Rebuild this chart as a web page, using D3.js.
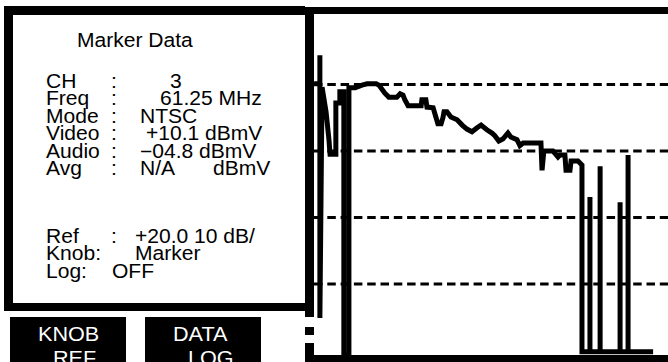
<!DOCTYPE html>
<html><head><meta charset="utf-8">
<script src="https://cdn.jsdelivr.net/npm/d3@7"></script>
<style>html,body{margin:0;padding:0;background:#fff;overflow:hidden}</style>
</head><body>
<svg id="c" width="668" height="362"></svg>
<script>
// ---- data ----
const traceFreqMHz = [58.25,58.41,58.41,58.41,58.47,58.58,58.66,58.69,58.85,58.85,58.96,58.96,59.07,59.07,59.21,59.21,59.38,59.57,59.71,59.96,60.04,60.20,60.31,60.53,60.62,60.70,60.75,60.84,61.20,61.22,61.33,61.36,61.53,61.66,61.75,61.80,61.83,61.91,62.02,62.19,62.33,62.46,62.60,62.74,62.85,63.01,63.15,63.23,63.34,63.45,63.59,63.67,63.84,63.92,64.01,64.50,64.53,64.58,64.83,64.91,64.97,65.02,65.16,65.19,65.30,65.33,65.52,65.63,65.63,65.85,65.85,65.85,66.13,66.13,66.13,66.68,66.68,66.68,66.90,66.90,66.90,67.59];
const traceLevelDbmv = [10.1,10.1,14.4,-25.1,9.6,5.9,1.7,-0.5,-0.5,7.2,7.2,8.9,8.9,-30.7,-30.7,9.5,9.5,9.9,10.1,10.1,9.9,8.7,8.1,8.1,8.6,8.4,7.7,6.8,6.8,7.7,7.7,6.6,6.5,4.1,4.1,5.0,5.9,5.9,5.1,4.7,3.9,3.3,2.9,3.5,3.9,3.2,2.7,2.3,1.5,1.8,2.7,2.1,1.7,0.8,1.2,1.2,-2.9,0.0,0.0,-0.5,-0.9,-0.6,-0.6,-2.9,-2.9,-1.5,-1.5,-2.1,-30.2,-30.2,-6.9,-30.2,-30.2,-2.3,-30.2,-30.2,-7.7,-30.2,-30.2,-0.6,-30.2,-30.2];
const gridLevelsDbmv = [10, 0, -10, -20];
const freqDomainMHz = [58, 68];
const levelDomainDbmv = [20, -30];
const panelTitle = "Marker Data";
const markerLabels = ["CH", "Freq", "Mode", "Video", "Audio", "Avg"];
const markerValues = ["3", "61.25 MHz", "NTSC", "+10.1 dBmV", "\u221204.8 dBmV", "N/A"];
const settingLabels = ["Ref", "Knob:", "Log:"];
const settingValues = ["+20.0 10 dB/", "Marker", "OFF"];
const softKeyTop = ["KNOB", "DATA"];
const softKeyBottom = ["REF", "LOG"];

// ---- drawing ----
const svg = d3.select("#c");
const FONT = "'Liberation Sans', Arial, Helvetica, sans-serif";

const x = d3.scaleLinear().domain(freqDomainMHz).range([305, 668]);
const y = d3.scaleLinear().domain(levelDomainDbmv).range([18, 350.5]);

// left info panel
svg.append("rect").attr("x", 4).attr("y", 6).attr("width", 301).attr("height", 305).attr("fill", "#000");
svg.append("rect").attr("x", 13).attr("y", 15).attr("width", 292).attr("height", 288).attr("fill", "#fff");

const txt = svg.append("g").attr("font-family", FONT).attr("font-size", 19.5).attr("fill", "#000");
function put(g, tx, ty, s) {
  g.append("text").attr("transform", `translate(${tx},${ty}) scale(1.08,1)`).text(s);
}
put(txt, 77, 47, panelTitle);

const rowY0 = 88, rowStep = 17.4;
const valueX = [170, 160, 140, 146, 140, 140];
markerLabels.forEach((l, i) => {
  const yy = rowY0 + i * rowStep;
  put(txt, 46, yy, l);
  put(txt, 111, yy, ":");
  put(txt, valueX[i], yy, markerValues[i]);
});
put(txt, 213, rowY0 + 5 * rowStep, "dBmV");

const setY0 = 243;
const setX = [135, 135, 112];
settingLabels.forEach((l, i) => {
  const yy = setY0 + i * rowStep;
  put(txt, 46, yy, l);
  if (i === 0) put(txt, 111, yy, ":");
  put(txt, setX[i], yy, settingValues[i]);
});

// soft keys
const keyX = [10, 145];
const keys = svg.append("g").attr("font-family", FONT).attr("font-size", 20).attr("fill", "#fff");
softKeyTop.forEach((k, i) => {
  svg.insert("rect", "g").attr("x", keyX[i]).attr("y", 317).attr("width", 116).attr("height", 45).attr("fill", "#000");
  put(keys, keyX[i] + 28, 341, k);
  put(keys, keyX[i] + 43, 365, softKeyBottom[i]);
});

// chart frame
svg.append("rect").attr("x", 305).attr("y", 7).attr("width", 363).attr("height", 7).attr("fill", "#000");
svg.append("rect").attr("x", 305).attr("y", 7).attr("width", 9).attr("height", 310).attr("fill", "#000");
svg.append("rect").attr("x", 305).attr("y", 327).attr("width", 9).attr("height", 8).attr("fill", "#000");
svg.append("rect").attr("x", 305).attr("y", 343).attr("width", 9).attr("height", 19).attr("fill", "#000");
svg.append("rect").attr("x", 305).attr("y", 355).attr("width", 363).attr("height", 7).attr("fill", "#000");

// dashed grid
svg.append("g").selectAll("line").data(gridLevelsDbmv).join("line")
  .attr("x1", 314).attr("x2", 668)
  .attr("y1", d => y(d)).attr("y2", d => y(d))
  .attr("stroke", "#000").attr("stroke-width", 3)
  .attr("stroke-dasharray", "8.5,4.8");

// trace
const pts = traceFreqMHz.map((f, i) => [f, traceLevelDbmv[i]]);
svg.append("path")
  .attr("d", d3.line().x(d => x(d[0])).y(d => y(d[1]))(pts))
  .attr("fill", "none").attr("stroke", "#000").attr("stroke-width", 5)
  .attr("stroke-linejoin", "miter").attr("stroke-linecap", "butt");
</script>
</body></html>
